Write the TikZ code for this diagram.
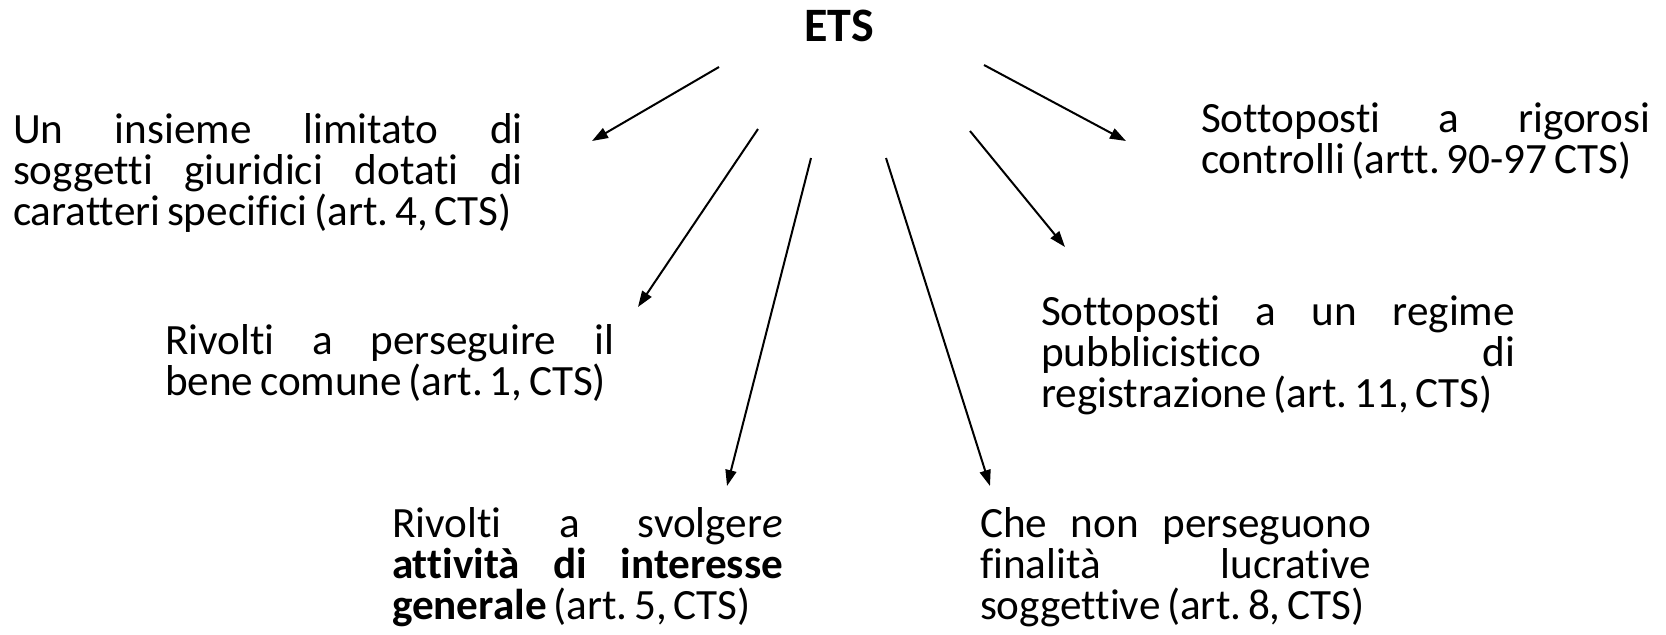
\documentclass[tikz,border=0pt]{standalone}
\usepackage{fontspec}
\setmainfont[Ligatures=CommonOff]{Carlito}
\usepackage{tikz}
\usetikzlibrary{arrows.meta}

% a line spread to the full width of its box
\newcommand{\jline}[1]{\noindent\hbox to \hsize{\spaceskip=0.3em plus 1fil\relax #1}}
\newcommand{\itemfont}{\fontsize{21.6}{20.6}\selectfont\frenchspacing}

\begin{document}
\begin{tikzpicture}[
        x=0.5pt, y=-0.5pt,
        every node/.style={inner sep=0pt, outer sep=0pt},
        title/.style={font=\fontsize{24}{28}\selectfont\bfseries, anchor=base},
        item/.style={align=left, anchor=base west},
        arrow/.style={-{Triangle[length=8pt,width=5.5pt]}, line width=1pt}
    ]
    \useasboundingbox (0,0) rectangle (1666,634);
    % Nodes
    \node[title] (ets) at (839,41) {ETS};
    \node[item, text width=255pt] (insieme) at (13,143)
        {\itemfont
         \jline{Un insieme limitato di}\\
         \jline{soggetti giuridici dotati di}\\
         caratteri specifici (art. 4, CTS)\par};
    \node[item, text width=224.5pt] (bene) at (165,354)
        {\itemfont
         \jline{Rivolti a perseguire il}\\
         bene comune (art. 1, CTS)\par};
    \node[item, text width=195.5pt] (attivita) at (392,537)
        {\itemfont
         \jline{Rivolti a svolger\textit{e}}\\
         \jline{\textbf{attività di interesse}}\\
         \textbf{generale} (art. 5, CTS)\par};
    \node[item, text width=195.5pt] (lucro) at (980,537)
        {\itemfont
         \jline{Che non perseguono}\\
         \jline{finalità lucrative}\\
         soggettive (art. 8, CTS)\par};
    \node[item, text width=237pt] (registro) at (1041,325)
        {\itemfont
         \jline{Sottoposti a un regime}\\
         \jline{pubblicistico di}\\
         registrazione (art. 11, CTS)\par};
    \node[item, text width=224.5pt] (controlli) at (1201,132)
        {\itemfont
         \jline{Sottoposti a rigorosi}\\
         controlli (artt. 90-97 CTS)\par};
    % Arrow ends
    \coordinate (s-insieme) at (719,67);
    \coordinate (e-insieme) at (592,141);
    \coordinate (s-bene) at (758,129);
    \coordinate (e-bene) at (638,307);
    \coordinate (s-attivita) at (811,158);
    \coordinate (e-attivita) at (727,486);
    \coordinate (s-lucro) at (886,158);
    \coordinate (e-lucro) at (990,486);
    \coordinate (s-registro) at (970,131);
    \coordinate (e-registro) at (1065,247);
    \coordinate (s-controlli) at (984,65);
    \coordinate (e-controlli) at (1126,141);
    % Arrows
    \draw[arrow] (s-insieme) -- (e-insieme);
    \draw[arrow] (s-bene) -- (e-bene);
    \draw[arrow] (s-attivita) -- (e-attivita);
    \draw[arrow] (s-lucro) -- (e-lucro);
    \draw[arrow] (s-registro) -- (e-registro);
    \draw[arrow] (s-controlli) -- (e-controlli);
\end{tikzpicture}
\end{document}
